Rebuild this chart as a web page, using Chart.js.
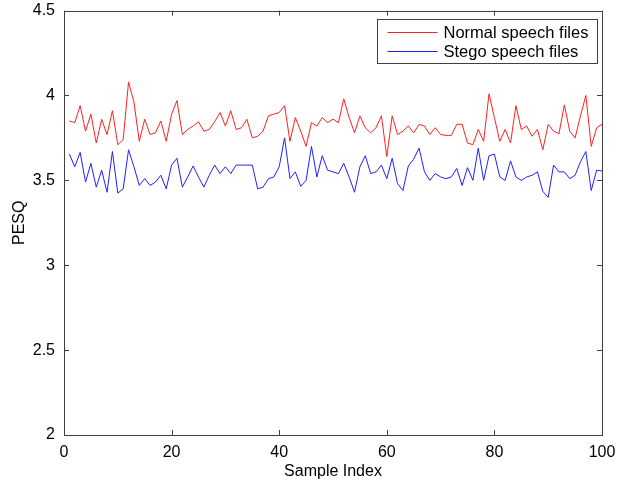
<!DOCTYPE html>
<html>
<head>
<meta charset="utf-8">
<script src="https://cdn.jsdelivr.net/npm/chart.js@4"></script>
<style>
  html, body { margin: 0; padding: 0; background: #fff; }
  #wrap { width: 623px; height: 482px; }
</style>
</head>
<body>
<div id="wrap"><canvas id="pesqChart" width="623" height="482"></canvas></div>
<script>
// sample index 1..100
const sampleIndex = Array.from({ length: 100 }, (_, i) => i + 1);

const normalPesq = [
  3.85, 3.84, 3.94, 3.79, 3.89, 3.72, 3.86, 3.77, 3.91, 3.71,
  3.74, 4.08, 3.96, 3.73, 3.86, 3.77, 3.78, 3.85, 3.73, 3.89,
  3.97, 3.77, 3.80, 3.82, 3.845, 3.79, 3.80, 3.845, 3.90, 3.82,
  3.91, 3.80, 3.81, 3.86, 3.75, 3.76, 3.79, 3.88, 3.89, 3.90,
  3.94, 3.73, 3.87, 3.79, 3.70, 3.84, 3.82, 3.87, 3.84, 3.86,
  3.84, 3.98, 3.87, 3.78, 3.88, 3.81, 3.78, 3.81, 3.88, 3.64,
  3.88, 3.77, 3.79, 3.82, 3.78, 3.83, 3.82, 3.77, 3.81, 3.77,
  3.765, 3.765, 3.83, 3.83, 3.72, 3.71, 3.80, 3.73, 4.01, 3.87,
  3.73, 3.80, 3.72, 3.94, 3.80, 3.82, 3.76, 3.80, 3.68, 3.83,
  3.79, 3.775, 3.945, 3.79, 3.75, 3.88, 4.00, 3.70, 3.81, 3.83
];

const stegoPesq = [
  3.655, 3.58, 3.665, 3.49, 3.60, 3.46, 3.56, 3.43, 3.67, 3.425,
  3.45, 3.68, 3.58, 3.47, 3.51, 3.47, 3.49, 3.53, 3.45, 3.59,
  3.63, 3.46, 3.52, 3.585, 3.52, 3.46, 3.53, 3.59, 3.54, 3.58,
  3.54, 3.59, 3.59, 3.59, 3.59, 3.45, 3.46, 3.51, 3.52, 3.58,
  3.75, 3.51, 3.55, 3.465, 3.50, 3.70, 3.52, 3.645, 3.56, 3.55,
  3.54, 3.60, 3.52, 3.43, 3.58, 3.645, 3.54, 3.55, 3.59, 3.51,
  3.63, 3.48, 3.44, 3.585, 3.625, 3.69, 3.55, 3.50, 3.54, 3.52,
  3.51, 3.52, 3.57, 3.47, 3.575, 3.50, 3.69, 3.50, 3.645, 3.655,
  3.52, 3.50, 3.615, 3.52, 3.50, 3.52, 3.53, 3.55, 3.435, 3.40,
  3.59, 3.55, 3.55, 3.51, 3.53, 3.61, 3.67, 3.44, 3.56, 3.555
];

const seriesNames = ['Normal speech files', 'Stego speech files'];
const xTicks = [0, 20, 40, 60, 80, 100];
const yTicks = [2, 2.5, 3, 3.5, 4, 4.5];

const FONT = 'Liberation Sans, Arial, sans-serif';
const AXIS_COLOR = '#404040';

// matlab style box with inward ticks + legend in upper right
const matlabBox = {
  id: 'matlabBox',
  afterDatasetsDraw(chart) {
    const { ctx, chartArea: a, scales: { x, y } } = chart;
    ctx.save();
    ctx.strokeStyle = AXIS_COLOR;
    ctx.lineWidth = 1;
    ctx.strokeRect(Math.round(a.left) + 0.5, Math.round(a.top) + 0.5,
      Math.round(a.right - a.left), Math.round(a.bottom - a.top));
    const tl = 5;
    ctx.beginPath();
    xTicks.forEach(v => {
      const px = Math.round(x.getPixelForValue(v)) + 0.5;
      ctx.moveTo(px, a.bottom); ctx.lineTo(px, a.bottom - tl);
      ctx.moveTo(px, a.top); ctx.lineTo(px, a.top + tl);
    });
    yTicks.forEach(v => {
      const py = Math.round(y.getPixelForValue(v)) + 0.5;
      ctx.moveTo(a.left, py); ctx.lineTo(a.left + tl, py);
      ctx.moveTo(a.right, py); ctx.lineTo(a.right - tl, py);
    });
    ctx.stroke();

    // legend
    const bw = 220, bh = 44;
    const bx = Math.round(a.right - 5 - bw) + 0.5, by = Math.round(a.top + 8) + 0.5;
    ctx.fillStyle = '#fff';
    ctx.fillRect(bx, by, bw, bh);
    ctx.strokeStyle = AXIS_COLOR;
    ctx.strokeRect(bx, by, bw, bh);
    ctx.font = '16.5px ' + FONT;
    ctx.textBaseline = 'middle';
    chart.data.datasets.forEach((ds, i) => {
      const ly = by + 13 + i * 19;
      ctx.strokeStyle = ds.borderColor;
      ctx.beginPath();
      ctx.moveTo(bx + 10, ly); ctx.lineTo(bx + 60, ly);
      ctx.stroke();
      ctx.fillStyle = '#000';
      ctx.fillText(ds.label, bx + 66, ly + 1);
    });
    ctx.restore();
  }
};

new Chart(document.getElementById('pesqChart'), {
  type: 'line',
  data: {
    datasets: [
      {
        label: seriesNames[0],
        data: sampleIndex.map((s, i) => ({ x: s, y: normalPesq[i] })),
        borderColor: '#ff2020',
        borderWidth: 1,
        pointRadius: 0,
        tension: 0
      },
      {
        label: seriesNames[1],
        data: sampleIndex.map((s, i) => ({ x: s, y: stegoPesq[i] })),
        borderColor: '#2020ff',
        borderWidth: 1,
        pointRadius: 0,
        tension: 0
      }
    ]
  },
  options: {
    responsive: false,
    animation: false,
    layout: { padding: { left: 0, right: 21, top: 7, bottom: 0 } },
    plugins: { legend: { display: false }, tooltip: { enabled: false } },
    scales: {
      x: {
        type: 'linear',
        min: 0, max: 100,
        afterBuildTicks: s => { s.ticks = xTicks.map(v => ({ value: v })); },
        afterFit: s => { s.height = 47; },
        grid: { display: false },
        border: { display: false },
        ticks: { color: '#000', padding: 0, maxRotation: 0, font: { family: FONT, size: 16 } },
        title: { display: true, text: 'Sample Index', color: '#000', padding: { top: 0, bottom: 1 }, font: { family: FONT, size: 16 } }
      },
      y: {
        min: 2, max: 4.5,
        afterBuildTicks: s => { s.ticks = yTicks.map(v => ({ value: v })); },
        afterFit: s => { s.width = 64; },
        grid: { display: false },
        border: { display: false },
        ticks: { color: '#000', padding: 1, font: { family: FONT, size: 16 }, callback: v => String(v) },
        title: { display: true, text: 'PESQ', color: '#000', padding: { top: 10, bottom: 0 }, font: { family: FONT, size: 16 } }
      }
    }
  },
  plugins: [matlabBox]
});
</script>
</body>
</html>
